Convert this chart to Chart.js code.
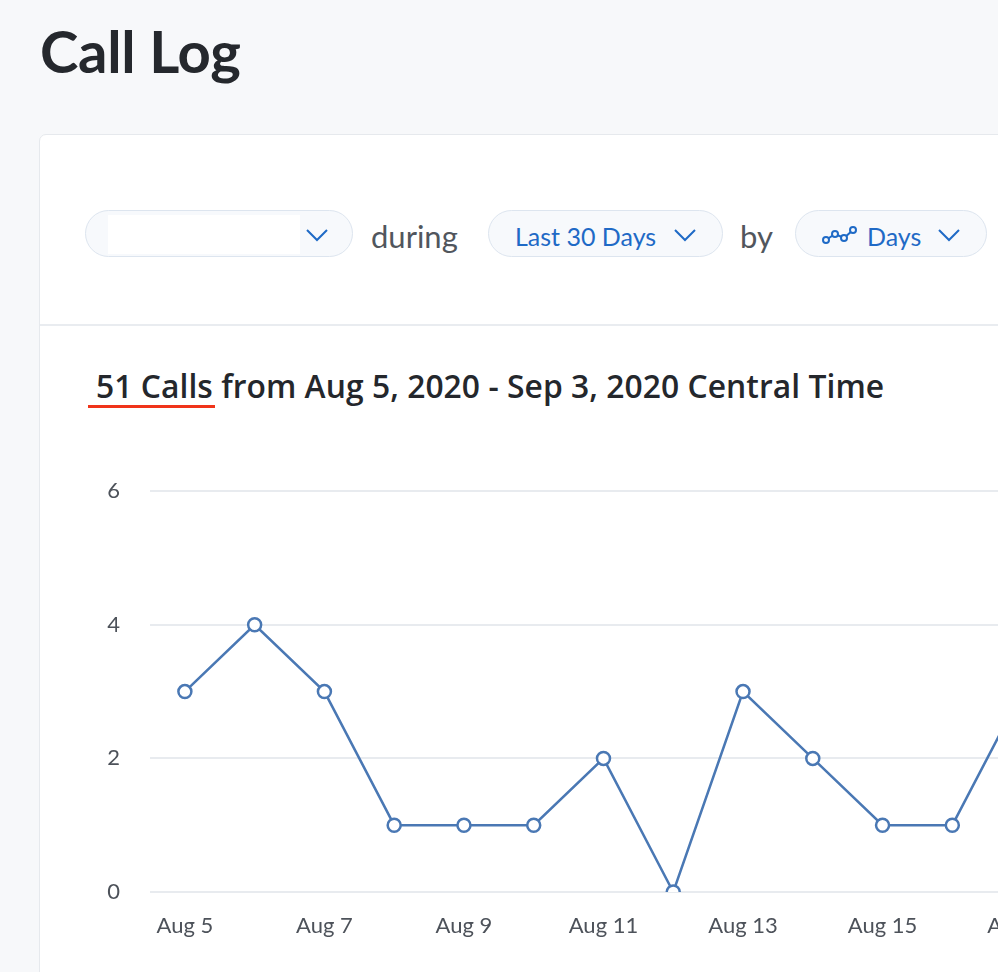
<!DOCTYPE html>
<html>
<head>
<meta charset="utf-8">
<script src="https://cdn.jsdelivr.net/npm/chart.js@4.4.0/dist/chart.umd.min.js"></script>
<style>
  html, body { margin:0; padding:0; width:998px; height:972px; overflow:hidden; background:#f7f8fa; font-family: Lato, "Noto Sans", sans-serif; }
  .title { position:absolute; left:40px; top:16px; font-size:58px; font-weight:700; color:#25282d; letter-spacing:-0.3px; }
  .card { position:absolute; left:39px; top:134px; width:1200px; height:1000px; background:#fff; border:1.5px solid #e6e9ed; border-radius:7px; }
  .sep { position:absolute; left:40px; top:324px; width:1200px; height:2px; background:#e9ecf0; }
  .pill { position:absolute; top:210px; height:45px; border:1.5px solid #dde5ef; border-radius:24px; background:#f7f9fc; color:#1f6ac6; font-size:25px; line-height:51px; box-sizing:content-box; }
  .chev { position:absolute; top:17px; width:22px; height:14px; }
  .plain { position:absolute; top:217px; font-size:31px; color:#51565d; }
  .heading { position:absolute; left:96px; top:364px; font-family:"Open Sans", sans-serif; font-size:31.8px; font-weight:600; color:#24272c; letter-spacing:0.05px; }
  .underline { position:absolute; left:88px; top:405px; width:127px; height:3px; background:#f0341a; }
  #wrap { position:absolute; left:40px; top:448px; width:2212px; height:512px; }
</style>
</head>
<body>
<div class="title">Call Log</div>
<div class="card"></div>
<div class="sep"></div>

<div class="pill" style="left:85px;width:266px;">
  <div style="position:absolute;left:22px;top:4px;width:192px;height:39px;background:#fff;"></div>
  <svg class="chev" style="left:220px;" viewBox="0 0 22 14"><polyline points="1,2 11,12 21,2" fill="none" stroke="#1f6ac6" stroke-width="2"/></svg>
</div>
<div class="plain" style="left:371px;">during</div>
<div class="pill" style="left:488px;width:233px;">
  <span style="position:absolute;left:26px;">Last 30 Days</span>
  <svg class="chev" style="left:185px;" viewBox="0 0 22 14"><polyline points="1,2 11,12 21,2" fill="none" stroke="#1f6ac6" stroke-width="2"/></svg>
</div>
<div class="plain" style="left:740px;">by</div>
<div class="pill" style="left:795px;width:190px;">
  <svg style="position:absolute;left:26px;top:14px;width:36px;height:20px;" viewBox="0 0 36 20">
    <polyline points="4,15 13,9 22,13 31,5" fill="none" stroke="#1f6ac6" stroke-width="2"/>
    <circle cx="4" cy="15" r="3" fill="#f7f9fc" stroke="#1f6ac6" stroke-width="2"/>
    <circle cx="13" cy="9" r="3" fill="#f7f9fc" stroke="#1f6ac6" stroke-width="2"/>
    <circle cx="22" cy="13" r="3" fill="#f7f9fc" stroke="#1f6ac6" stroke-width="2"/>
    <circle cx="31" cy="5" r="3" fill="#f7f9fc" stroke="#1f6ac6" stroke-width="2"/>
  </svg>
  <span style="position:absolute;left:71px;">Days</span>
  <svg class="chev" style="left:142px;" viewBox="0 0 22 14"><polyline points="1,2 11,12 21,2" fill="none" stroke="#1f6ac6" stroke-width="2"/></svg>
</div>

<div class="heading">51 Calls from Aug 5, 2020 - Sep 3, 2020 Central Time</div>
<div class="underline"></div>

<div id="wrap"><canvas id="c"></canvas></div>

<script>
// Categories: Aug 5 – Sep 3, 2020 (30 days)
const dayLabels = [
  "Aug 5","Aug 6","Aug 7","Aug 8","Aug 9","Aug 10","Aug 11","Aug 12","Aug 13","Aug 14",
  "Aug 15","Aug 16","Aug 17","Aug 18","Aug 19","Aug 20","Aug 21","Aug 22","Aug 23","Aug 24",
  "Aug 25","Aug 26","Aug 27","Aug 28","Aug 29","Aug 30","Aug 31","Sep 1","Sep 2","Sep 3"
];
// Calls per day (only the visible part of the reference is known)
const callCounts = [3, 4, 3, 1, 1, 1, 2, 0, 3, 2, 1, 1, 3,
  null, null, null, null, null, null, null, null, null, null, null, null, null, null, null, null, null];
const yTicks = [0, 2, 4, 6];

const lineColor = "#4a78b4";
new Chart(document.getElementById("c"), {
  type: "line",
  data: {
    labels: dayLabels,
    datasets: [{
      data: callCounts,
      borderColor: lineColor,
      borderWidth: 2.5,
      backgroundColor: "#ffffff",
      pointBackgroundColor: "#ffffff",
      pointBorderColor: lineColor,
      pointBorderWidth: 2.5,
      pointRadius: 6.5,
      tension: 0,
      fill: false,
      spanGaps: false
    }]
  },
  options: {
    responsive: true,
    maintainAspectRatio: false,
    animation: false,
    layout: { padding: { top: 0, right: 0, left: 0, bottom: 0 } },
    plugins: { legend: { display: false }, tooltip: { enabled: false } },
    scales: {
      x: {
        offset: true,
        grid: { display: false, drawTicks: false },
        border: { display: false },
        afterFit: s => { s.height = 68; },
        ticks: {
          autoSkip: false, maxRotation: 0, padding: 21,
          color: "#4d525a", font: { family: "Lato", size: 22 },
          callback: function (v, i) { return i % 2 === 0 ? this.getLabelForValue(v) : ""; }
        }
      },
      y: {
        min: 0, max: 6,
        afterBuildTicks: s => { s.ticks = yTicks.map(v => ({ value: v })); },
        afterFit: s => { s.width = 110; },
        grid: { color: "#e8ebef", lineWidth: 2, drawTicks: false },
        border: { display: false },
        ticks: { padding: 30, color: "#4d525a", font: { family: "Lato", size: 22 } }
      }
    }
  }
});
</script>
</body>
</html>
